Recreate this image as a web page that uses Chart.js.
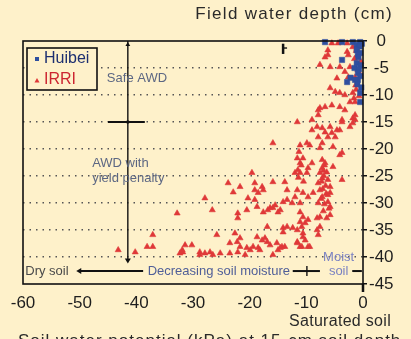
<!DOCTYPE html>
<html>
<head>
<meta charset="utf-8">
<script src="https://cdn.jsdelivr.net/npm/chart.js@4.4.1/dist/chart.umd.min.js"></script>
<style>
  html, body { margin: 0; padding: 0; background: #fef1ca; }
  #wrap { width: 411px; height: 339px; position: relative; }
</style>
</head>
<body>
<div id="wrap"><canvas id="c" width="411" height="339"></canvas></div>
<script>
// Axis ranges (kPa on x, cm of field water on y)
const xTicks = [-60, -50, -40, -30, -20, -10, 0];
const yTicks = [0, -5, -10, -15, -20, -25, -30, -35, -40, -45];

// Huibei measurements: [soil water potential, field water depth]
const huibeiPoints = [
  [-6.7,-0.2],[-3.7,-0.2],[-1.8,-0.2],[-0.5,-0.2],[-1.1,-0.7],[-0.2,-0.5],[-0.6,-1.0],
  [-1.1,-1.7],[-0.5,-2.2],[-0.9,-2.5],[-0.8,-3.0],[-3.7,-3.5],[-1.1,-4.1],[-0.4,-4.5],
  [-1.5,-5.0],[-0.7,-5.2],[-0.9,-5.9],[-0.5,-6.5],[-2.2,-6.8],[-0.9,-7.2],[-1.4,-7.2],
  [-2.8,-7.6],[-1.0,-8.0],[-0.3,-8.6],[-0.5,-9.6],[-0.5,-11.3]
];

// IRRI measurements, shallow water
const irriShallow = [
  [-5.5,-0.4],[-4.4,-0.4],[-2.8,-0.4],[-0.5,-0.6],[-1.8,-1.1],[-1.1,-1.4],[-6.2,-1.7],
  [-1.2,-1.8],[-2.8,-2.0],[-0.8,-2.4],[-6.2,-2.6],[-2.6,-2.6],[-6.7,-3.0],[-1.5,-3.3],
  [-0.4,-3.8],[-7.6,-4.4],[-5.8,-4.8],[-4.1,-4.8],[-2.3,-4.8],[-0.9,-5.4],[-3.2,-5.7],
  [-0.6,-6.0],[-2.6,-6.7],[-1.4,-6.7],[-4.6,-6.9],[-1.3,-8.2],[-5.8,-8.7],[-1.2,-9.0],
  [-4.9,-9.4],[-4.1,-9.6],[-1.8,-9.6],[-3.2,-10.0],[-0.7,-10.2],[-1.6,-10.6],[-2.3,-11.3],
  [-1.4,-11.3],[-5.5,-11.9],[-6.7,-12.2],[-4.1,-12.2],[-7.6,-12.4],[-7.9,-12.8],[-3.2,-12.8],
  [-7.9,-13.7],[-1.4,-13.7],[-1.8,-14.3],[-9.0,-14.6],[-3.7,-14.6],[-1.4,-14.6],[-11.6,-15.0],
  [-3.7,-15.0],[-1.8,-15.2],[-8.1,-15.9],[-5.8,-15.9],[-2.3,-15.9],[-7.2,-16.1],[-9.0,-16.5],
  [-4.6,-16.5],[-4.1,-16.5],[-6.7,-16.9],[-5.5,-17.0],[-7.9,-17.8],[-6.2,-17.8],[-4.9,-17.8]
];

// IRRI measurements, middle depths
const irriMiddle = [
  [-15.9,-18.9],[-9.9,-18.9],[-7.2,-18.9],[-11.1,-19.3],[-9.4,-19.3],[-5.3,-19.6],[-7.6,-19.8],
  [-11.3,-20.5],[-3.7,-20.7],[-4.1,-21.1],[-11.6,-21.7],[-10.6,-21.7],[-7.2,-22.0],[-11.1,-22.6],
  [-9.0,-22.6],[-6.7,-22.6],[-10.9,-23.0],[-6.8,-23.0],[-5.3,-23.3],[-9.7,-23.5],[-7.2,-23.5],
  [-11.5,-23.9],[-7.0,-24.0],[-6.4,-24.3],[-19.6,-24.4],[-12.0,-24.4],[-11.1,-24.4],[-9.9,-24.4],
  [-7.6,-24.4],[-6.9,-25.0],[-11.4,-25.3],[-7.2,-25.4],[-6.2,-25.7],[-3.7,-25.7],[-10.5,-26.0],
  [-7.3,-26.0],[-15.9,-26.1],[-13.8,-26.1],[-23.8,-26.3],[-19.1,-26.3],[-7.9,-26.3],[-6.6,-26.8],
  [-21.7,-27.0],[-17.8,-27.0],[-5.8,-27.0],[-7.1,-27.4],[-19.1,-27.6],[-17.6,-27.6],[-13.4,-27.6],
  [-11.6,-27.6],[-7.6,-27.6],[-22.9,-28.0],[-18.5,-28.1],[-10.6,-28.1],[-8.8,-28.1],[-5.8,-28.1],
  [-6.5,-28.3],[-6.2,-28.5],[-12.0,-28.9],[-9.7,-28.9],[-7.2,-28.9],[-27.9,-29.1],[-20.3,-29.1],
  [-7.4,-29.2],[-19.1,-29.4],[-13.4,-29.4],[-6.2,-29.8],[-14.1,-29.8],[-12.5,-30.0],[-11.1,-30.0],
  [-7.9,-30.0],[-6.8,-30.2],[-15.5,-30.4],[-18.7,-30.7],[-5.8,-30.7],[-16.4,-30.9],[-15.9,-30.9],
  [-6.0,-31.0],[-26.6,-31.3],[-20.5,-31.3],[-16.8,-31.3],[-14.6,-31.3],[-7.0,-31.5],[-17.6,-31.7],
  [-15.0,-31.7],[-11.1,-31.7],[-32.8,-31.9],[-22.1,-31.9],[-5.8,-32.2],[-10.6,-32.6],[-7.6,-32.6],
  [-22.1,-32.8],[-8.1,-32.8],[-6.4,-32.8],[-9.7,-33.1],[-11.1,-33.5],[-10.2,-33.7]
];

// IRRI measurements, deep water table
const irriDeep = [
  [-16.9,-34.4],[-13.4,-34.4],[-10.8,-34.4],[-7.6,-34.4],[-12.4,-34.6],[-14.1,-34.6],[-11.6,-35.0],
  [-8.1,-35.0],[-14.1,-35.4],[-22.6,-35.6],[-10.6,-35.6],[-37.1,-35.9],[-25.8,-35.9],[-7.9,-35.9],
  [-18.7,-36.3],[-10.6,-36.3],[-21.7,-36.5],[-17.3,-36.5],[-10.2,-36.9],[-17.8,-36.9],[-22.2,-37.2],
  [-16.9,-37.2],[-11.6,-37.2],[-23.5,-37.4],[-15.2,-37.4],[-11.6,-37.4],[-30.2,-37.8],[-31.4,-37.8],
  [-16.4,-37.8],[-38.1,-38.1],[-37.1,-38.1],[-21.7,-38.1],[-19.4,-38.1],[-14.3,-38.1],[-13.8,-38.1],
  [-11.1,-38.1],[-10.8,-38.1],[-9.7,-38.1],[-9.4,-38.1],[-20.5,-38.3],[-18.5,-38.3],[-14.6,-38.3],
  [-43.2,-38.7],[-31.9,-38.7],[-19.9,-38.7],[-18.2,-38.7],[-15.0,-38.7],[-40.2,-39.1],[-31.8,-39.1],
  [-28.8,-39.1],[-27.0,-39.1],[-22.1,-39.1],[-27.9,-39.3],[-25.2,-39.3],[-32.3,-39.3],[-23.5,-39.3],
  [-26.5,-39.6],[-28.8,-39.6],[-20.8,-39.6],[-15.9,-39.6]
];

const seriesNames = ['Huibei', 'IRRI'];
const BLUE = '#2f4f9f';
const RED = '#df3838';
const BG = '#fef1ca';
const FONT = '"Liberation Sans", Arial, sans-serif';

const toXY = arr => arr.map(p => ({ x: p[0], y: p[1] }));
const irriPoints = irriShallow.concat(irriMiddle, irriDeep);

const bgPlugin = {
  id: 'bg',
  beforeDraw(chart) {
    const ctx = chart.ctx;
    ctx.save();
    ctx.fillStyle = BG;
    ctx.fillRect(0, 0, chart.width, chart.height);
    ctx.restore();
  }
};

function arrowHead(ctx, x, y, dir, size) {
  ctx.beginPath();
  if (dir === 'left') { ctx.moveTo(x, y); ctx.lineTo(x + size, y - size * 0.6); ctx.lineTo(x + size, y + size * 0.6); }
  if (dir === 'down') { ctx.moveTo(x, y); ctx.lineTo(x - size * 0.6, y - size); ctx.lineTo(x + size * 0.6, y - size); }
  if (dir === 'up')   { ctx.moveTo(x, y); ctx.lineTo(x - size * 0.6, y + size); ctx.lineTo(x + size * 0.6, y + size); }
  ctx.closePath();
  ctx.fill();
}

const notesPlugin = {
  id: 'notes',
  afterDatasetsDraw(chart) {
    const ctx = chart.ctx;
    const xs = chart.scales.x, ys = chart.scales.y;
    const X = v => xs.getPixelForValue(v);
    const Y = v => ys.getPixelForValue(v);
    const a = chart.chartArea;
    ctx.save();

    // plot frame
    ctx.strokeStyle = '#111';
    ctx.lineWidth = 1.6;
    ctx.strokeRect(a.left, a.top, a.right - a.left, a.bottom - a.top);
    // tick below the origin
    ctx.lineWidth = 2.5;
    ctx.beginPath(); ctx.moveTo(X(0), a.bottom); ctx.lineTo(X(0), a.bottom + 8); ctx.stroke();

    ctx.strokeStyle = '#111';
    ctx.fillStyle = '#111';
    ctx.lineWidth = 1.4;

    // vertical threshold line with arrows
    const vx = X(-41.5);
    ctx.beginPath(); ctx.moveTo(vx, Y(0)); ctx.lineTo(vx, Y(-40.6)); ctx.stroke();
    arrowHead(ctx, vx, Y(-41.2), 'down', 5);
    arrowHead(ctx, vx, Y(-0.2), 'up', 4);
    ctx.beginPath(); ctx.arc(vx, Y(-15), 1.8, 0, Math.PI * 2); ctx.fill();
    ctx.lineWidth = 2;
    ctx.beginPath(); ctx.moveTo(X(-45), Y(-15)); ctx.lineTo(X(-38.5), Y(-15)); ctx.stroke();

    // short mark near the top
    ctx.lineWidth = 2.5;
    ctx.beginPath(); ctx.moveTo(X(-14.1), Y(-0.5)); ctx.lineTo(X(-14.1), Y(-2.4)); ctx.stroke();
    ctx.lineWidth = 1.4;
    ctx.beginPath(); ctx.moveTo(X(-14.1), Y(-1.3)); ctx.lineTo(X(-13.4), Y(-1.3)); ctx.stroke();

    // soil moisture direction line
    const hy = Y(-42.6);
    ctx.lineWidth = 2;
    ctx.beginPath(); ctx.moveTo(X(-49.8), hy); ctx.lineTo(X(-38.8), hy); ctx.stroke();
    arrowHead(ctx, X(-50.6), hy, 'left', 5);
    ctx.beginPath(); ctx.moveTo(X(-12.4), hy); ctx.lineTo(X(-7.6), hy); ctx.stroke();
    ctx.lineWidth = 1.4;
    ctx.beginPath(); ctx.moveTo(X(-9.9), hy - 5); ctx.lineTo(X(-9.9), hy + 5); ctx.stroke();
    ctx.lineWidth = 2;
    ctx.beginPath(); ctx.moveTo(X(-1.9), hy); ctx.lineTo(X(-0.2), hy); ctx.stroke();

    // region labels
    ctx.font = '13px ' + FONT;
    ctx.textBaseline = 'middle';
    ctx.textAlign = 'left';
    ctx.fillStyle = '#5c6783';
    ctx.fillText('Safe AWD', X(-45.2), Y(-7.0));
    ctx.fillText('AWD with', X(-47.8), Y(-22.6));
    ctx.fillText('yield penalty', X(-47.8), Y(-25.4));
    ctx.fillStyle = '#4a4a4a';
    ctx.fillText('Dry soil', X(-59.6), hy);
    ctx.fillStyle = '#4f5e98';
    ctx.fillText('Decreasing soil moisture', X(-38.0), hy);
    ctx.fillStyle = '#7b82c2';
    ctx.textAlign = 'center';
    ctx.fillText('Moist', X(-4.3), Y(-40.0));
    ctx.fillText('soil', X(-4.3), Y(-42.7));

    // legend
    const lx = 27, ly = 48, lw = 70, lh = 42;
    ctx.fillStyle = BG;
    ctx.fillRect(lx, ly, lw, lh);
    ctx.strokeStyle = '#111';
    ctx.lineWidth = 1.6;
    ctx.strokeRect(lx, ly, lw, lh);
    ctx.fillStyle = BLUE;
    ctx.fillRect(lx + 8, ly + 9, 4, 4);
    ctx.fillStyle = RED;
    ctx.beginPath();
    ctx.moveTo(lx + 10, ly + 30); ctx.lineTo(lx + 12.5, ly + 34.5); ctx.lineTo(lx + 7.5, ly + 34.5);
    ctx.closePath(); ctx.fill();
    ctx.font = '16px ' + FONT;
    ctx.textAlign = 'left';
    ctx.fillStyle = '#1d2f70';
    ctx.fillText(seriesNames[0], lx + 17, ly + 11);
    ctx.fillStyle = '#cc2530';
    ctx.fillText(seriesNames[1], lx + 17, ly + 32);

    // axis captions
    ctx.fillStyle = '#2a2a2a';
    ctx.font = '17px ' + FONT;
    ctx.letterSpacing = '1.3px';
    ctx.textAlign = 'right';
    ctx.fillText('Field water depth (cm)', 393, 14);
    ctx.font = '16px ' + FONT;
    ctx.letterSpacing = '0.3px';
    ctx.fillText('Saturated soil', 391, 322);
    ctx.font = '17px ' + FONT;
    ctx.letterSpacing = '1px';
    ctx.textAlign = 'left';
    ctx.textBaseline = 'top';
    ctx.fillText('Soil water potential (kPa) at 15-cm soil depth', 18, 333);
    ctx.restore();
  }
};

new Chart(document.getElementById('c'), {
  type: 'scatter',
  data: {
    datasets: [
      {
        label: seriesNames[0],
        data: toXY(huibeiPoints),
        pointStyle: 'rect',
        pointRadius: 3.8,
        backgroundColor: BLUE,
        borderColor: BLUE,
        borderWidth: 0.5,
        clip: false
      },
      {
        label: seriesNames[1],
        data: toXY(irriPoints),
        pointStyle: 'triangle',
        pointRadius: 3.5,
        backgroundColor: RED,
        borderColor: RED,
        borderWidth: 0.6,
        clip: false
      }
    ]
  },
  options: {
    responsive: false,
    animation: false,
    devicePixelRatio: 1,
    layout: { padding: { left: 23, top: 41, right: 0, bottom: 0 } },
    plugins: { legend: { display: false }, tooltip: { enabled: false } },
    scales: {
      x: {
        type: 'linear',
        min: xTicks[0],
        max: xTicks[xTicks.length - 1],
        afterBuildTicks: s => { s.ticks = xTicks.map(v => ({ value: v })); },
        afterFit: s => { s.height = 55; },
        grid: { display: false, drawTicks: false },
        border: { display: false },
        ticks: { padding: 9, color: '#1e1e1e', font: { family: FONT, size: 17 }, maxRotation: 0 }
      },
      y: {
        type: 'linear',
        position: 'right',
        min: yTicks[yTicks.length - 1],
        max: yTicks[0],
        afterBuildTicks: s => { s.ticks = yTicks.map(v => ({ value: v })); },
        afterFit: s => { s.width = 48; },
        grid: {
          color: c => (c.tick && (c.tick.value === 0 || c.tick.value === -45)) ? 'rgba(0,0,0,0)' : '#555',
          lineWidth: 1.5,
          tickColor: '#111',
          tickLength: 4
        },
        border: { display: false, dash: [1.5, 5] },
        ticks: { padding: 2, crossAlign: 'center', color: '#1e1e1e', font: { family: FONT, size: 17 } }
      }
    }
  },
  plugins: [bgPlugin, notesPlugin]
});
</script>
</body>
</html>
